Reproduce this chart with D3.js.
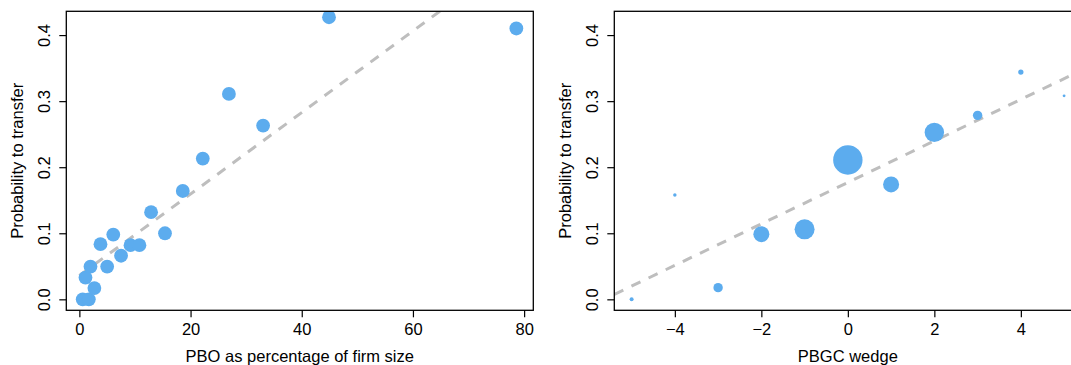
<!DOCTYPE html>
<html>
<head>
<meta charset="utf-8">
<script src="https://cdn.jsdelivr.net/npm/d3@7/dist/d3.min.js"></script>
<style>
  html, body { margin: 0; padding: 0; background: #fff; }
  svg { display: block; font-family: "Liberation Sans", Arial, Helvetica, sans-serif; }
</style>
</head>
<body>
<svg id="chart" width="1071" height="365"></svg>
<script>
// Left panel: binned PBO share of firm size vs. probability of transfer
const pboPct = [0.6, 1.7, 1.1, 2.7, 2.0, 5.0, 3.8, 6.1, 7.5, 9.2, 10.8, 12.9, 15.4, 18.6, 22.2, 26.9, 33.05, 44.9, 78.6];
const pboProb = [0.0, 0.0, 0.033, 0.017, 0.0496, 0.0496, 0.0835, 0.098, 0.066, 0.082, 0.082, 0.132, 0.100, 0.164, 0.213, 0.311, 0.263, 0.427, 0.410];
const pboFit = { intercept: 0.036, slope: 0.00617 };

// Right panel: PBGC wedge vs. probability of transfer, bubble area = number of firms
const wedge = [-5, -4, -3, -2, -1, 0, 1, 2, 3, 4, 5];
const wedgeProb = [0.0, 0.158, 0.0177, 0.0987, 0.106, 0.211, 0.174, 0.2527, 0.2785, 0.344, 0.308];
const wedgeFirms = [4, 3, 22, 64, 100, 216, 64, 94, 22, 7, 2];
const wedgeFit = { intercept: 0.177, slope: 0.0314 };

const xTicksLeft = [0, 20, 40, 60, 80];
const xTicksRight = [-4, -2, 0, 2, 4];
const yTicks = [0.0, 0.1, 0.2, 0.3, 0.4];

const yLabel = "Probability to transfer";
const xLabelLeft = "PBO as percentage of firm size";
const xLabelRight = "PBGC wedge";

const POINT = "#5CACEE";
const FIT = "#BEBEBE";
const FONT = 16.5;
const TICK = 7;

const svg = d3.select("#chart");

function panel(opts) {
  const { id, left, right, top, bottom, xDomain, yDomain, xTicks, xLabel, yTitleX } = opts;
  const x = d3.scaleLinear().domain(xDomain).range([left, right]);
  const y = d3.scaleLinear().domain(yDomain).range([bottom, top]);
  const g = svg.append("g");

  g.append("clipPath").attr("id", id)
    .append("rect").attr("x", left).attr("y", top)
    .attr("width", right - left).attr("height", bottom - top);

  const plot = g.append("g").attr("clip-path", `url(#${id})`);

  // fitted line
  const fit = opts.fit;
  const fx = opts.fitFrom !== undefined ? [opts.fitFrom, xDomain[1]] : xDomain;
  plot.append("line")
    .attr("x1", x(fx[0])).attr("y1", y(fit.intercept + fit.slope * fx[0]))
    .attr("x2", x(fx[1])).attr("y2", y(fit.intercept + fit.slope * fx[1]))
    .attr("stroke", FIT).attr("stroke-width", 3)
    .attr("stroke-dasharray", "10,9");

  // points
  plot.selectAll("circle").data(opts.xs)
    .join("circle")
    .attr("cx", d => x(d))
    .attr("cy", (d, i) => y(opts.ys[i]))
    .attr("r", (d, i) => opts.r(i))
    .attr("fill", POINT);

  // box
  g.append("rect").attr("x", left).attr("y", top)
    .attr("width", right - left).attr("height", bottom - top)
    .attr("fill", "none").attr("stroke", "#000").attr("stroke-width", 1.3);

  // x axis
  const xAxis = d3.axisBottom(x).tickValues(xTicks).tickSizeOuter(0)
    .tickSize(TICK).tickPadding(10).tickFormat(d => d < 0 ? "\u2212" + Math.abs(d) : d);
  const xa = g.append("g").attr("transform", `translate(0,${bottom})`).call(xAxis);
  xa.select(".domain").remove();
  xa.selectAll(".tick line").attr("stroke", "#000").attr("stroke-width", 1.2);
  xa.selectAll(".tick text").attr("font-size", FONT).attr("fill", "#000")
    .attr("font-family", "Liberation Sans, Arial, sans-serif")
    .attr("dy", null).attr("y", 335.5 - bottom);

  // y axis
  const yAxis = d3.axisLeft(y).tickValues(yTicks).tickSizeOuter(0)
    .tickSize(TICK).tickFormat(d3.format(".1f"));
  const ya = g.append("g").attr("transform", `translate(${left},0)`).call(yAxis);
  ya.select(".domain").remove();
  ya.selectAll(".tick line").attr("stroke", "#000").attr("stroke-width", 1.2);
  ya.selectAll(".tick text").attr("font-size", FONT).attr("fill", "#000")
    .attr("font-family", "Liberation Sans, Arial, sans-serif")
    .attr("x", null).attr("dy", null)
    .attr("text-anchor", "middle")
    .attr("transform", "translate(-16,0) rotate(-90)");

  // axis titles
  g.append("text")
    .attr("x", (left + x.range()[1]) / 2).attr("y", 362)
    .attr("text-anchor", "middle").attr("font-size", FONT).attr("fill", "#000")
    .text(xLabel);
  g.append("text")
    .attr("transform", `translate(${yTitleX},${(top + bottom) / 2}) rotate(-90)`)
    .attr("text-anchor", "middle").attr("font-size", FONT).attr("fill", "#000")
    .text(yLabel);
}

const yDomain = [-0.0166, 0.436];

panel({
  id: "clip-left", left: 66.3, right: 533.3, top: 11.3, bottom: 310.3,
  xDomain: [-2.35, 81.65], yDomain, xTicks: xTicksLeft, xLabel: xLabelLeft,
  yTitleX: 23, xs: pboPct, ys: pboProb, r: () => 6.9,
  fit: pboFit, fitFrom: 0
});

const rScale = d3.scaleSqrt().domain([0, d3.max(wedgeFirms)]).range([0, 14.7]);
panel({
  id: "clip-right", left: 614.3, right: 1081.4, top: 11.3, bottom: 310.3,
  xDomain: [-5.4, 5.4], yDomain, xTicks: xTicksRight, xLabel: xLabelRight,
  yTitleX: 570.5, xs: wedge, ys: wedgeProb, r: i => rScale(wedgeFirms[i]),
  fit: wedgeFit
});
</script>
</body>
</html>
